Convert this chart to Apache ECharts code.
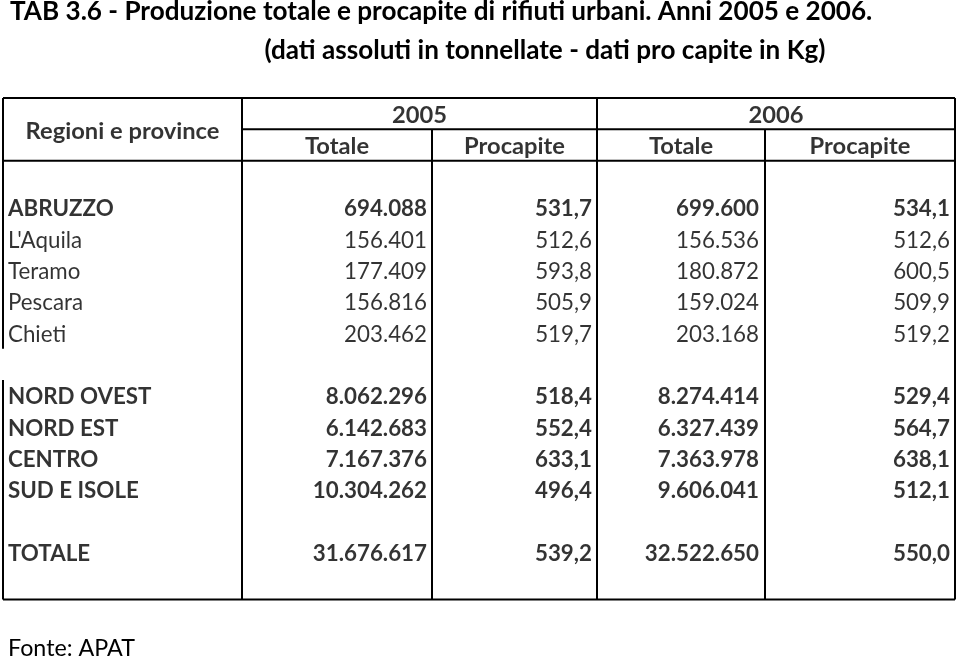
<!DOCTYPE html>
<html>
<head>
<meta charset="utf-8">
<script src="https://cdn.jsdelivr.net/npm/echarts@6/dist/echarts.min.js"></script>
<style>
html,body{margin:0;padding:0;background:#fff;}
#chart{width:960px;height:660px;}
</style>
</head>
<body>
<div id="chart"></div>
<script>
// ---------- DATA ----------
const titleMain = 'TAB 3.6 - Produzione totale e procapite di rifiuti urbani. Anni 2005 e 2006.';
const titleSub = '(dati assoluti in tonnellate - dati pro capite in Kg)';
const sourceNote = 'Fonte: APAT';
const rowHeader = 'Regioni e province';
const years = ['2005', '2006'];
const measures = ['Totale', 'Procapite'];

const regionNames = ['ABRUZZO', "L'Aquila", 'Teramo', 'Pescara', 'Chieti'];
const regionBold = [true, false, false, false, false];
const regionTot2005 = [694088, 156401, 177409, 156816, 203462];
const regionPc2005 = [531.7, 512.6, 593.8, 505.9, 519.7];
const regionTot2006 = [699600, 156536, 180872, 159024, 203168];
const regionPc2006 = [534.1, 512.6, 600.5, 509.9, 519.2];

const areaNames = ['NORD OVEST', 'NORD EST', 'CENTRO', 'SUD E ISOLE'];
const areaTot2005 = [8062296, 6142683, 7167376, 10304262];
const areaPc2005 = [518.4, 552.4, 633.1, 496.4];
const areaTot2006 = [8274414, 6327439, 7363978, 9606041];
const areaPc2006 = [529.4, 564.7, 638.1, 512.1];

const totalName = 'TOTALE';
const totalTot2005 = [31676617];
const totalPc2005 = [539.2];
const totalTot2006 = [32522650];
const totalPc2006 = [550.0];

// ---------- LAYOUT ----------
const FONT = 'Lato';
const colEdges = [3, 242, 432, 597, 765, 955];
const nSlots = 16;
const slotRegions = 3, slotAreas = 9, slotTotal = 14, gapSlotLeft = 8;

function fmtInt(n) {
  const s = String(Math.round(n));
  return s.replace(/\B(?=(\d{3})+(?!\d))/g, '.');
}
function fmtDec(n) { return n.toFixed(1).replace('.', ','); }

const cv = document.createElement('canvas').getContext('2d');
function fit(text, weight, target) {
  cv.font = weight + ' 100px ' + FONT;
  return 100 * target / cv.measureText(text).width;
}
const bodySize = fit('156.401', 'normal', 83);
const headSize = fit(rowHeader, 'bold', 194);
const titleSize = fit(titleMain, 'bold', 863);
const noteSize = fit(sourceNote, 'normal', 127);

// ---------- TEXT ITEMS ----------
const items = [];
function addText(x, y, text, align, bold, size) {
  items.push({
    value: [x, y],
    label: {
      show: true, position: 'inside', formatter: text, align: align, verticalAlign: 'middle',
      offset: [0, 1.5],
      fontWeight: bold ? 'bold' : 'normal', fontSize: size, fontFamily: FONT, color: '#000'
    }
  });
}
const E = colEdges;
addText((E[0] + E[1]) / 2, 1, rowHeader, 'center', true, headSize);
addText((E[1] + E[3]) / 2, 0.5, years[0], 'center', true, headSize);
addText((E[3] + E[5]) / 2, 0.5, years[1], 'center', true, headSize);
for (let c = 0; c < 4; c++) {
  addText((E[c + 1] + E[c + 2]) / 2, 1.5, measures[c % 2], 'center', true, headSize);
}
function addRow(slot, name, bold, t5, p5, t6, p6) {
  const y = slot + 0.5;
  addText(E[0] + 5, y, name, 'left', bold, bodySize);
  addText(E[2] - 5, y, fmtInt(t5), 'right', bold, bodySize);
  addText(E[3] - 5, y, fmtDec(p5), 'right', bold, bodySize);
  addText(E[4] - 6, y, fmtInt(t6), 'right', bold, bodySize);
  addText(E[5] - 5, y, fmtDec(p6), 'right', bold, bodySize);
}
regionNames.forEach((n, i) => addRow(slotRegions + i, n, regionBold[i], regionTot2005[i], regionPc2005[i], regionTot2006[i], regionPc2006[i]));
areaNames.forEach((n, i) => addRow(slotAreas + i, n, true, areaTot2005[i], areaPc2005[i], areaTot2006[i], areaPc2006[i]));
addRow(slotTotal, totalName, true, totalTot2005[0], totalPc2005[0], totalTot2006[0], totalPc2006[0]);

// ---------- CHART ----------
const chart = echarts.init(document.getElementById('chart'), null, { renderer: 'canvas' });
chart.setOption({
  animation: false,
  backgroundColor: '#fff',
  grid: { left: 0, right: 0, top: 98, bottom: 60.5, containLabel: false },
  xAxis: { type: 'value', min: 0, max: 960, show: false },
  yAxis: { type: 'value', min: 0, max: nSlots, inverse: true, show: false },
  graphic: [
    { type: 'text', style: { text: titleMain, x: 10, y: 12, align: 'left', verticalAlign: 'middle', font: 'bold ' + titleSize + 'px ' + FONT, fill: '#000' } },
    { type: 'text', style: { text: titleSub, x: 545, y: 51, align: 'center', verticalAlign: 'middle', font: 'bold ' + titleSize + 'px ' + FONT, fill: '#000' } },
    { type: 'text', style: { text: sourceNote, x: 8, y: 648, align: 'left', verticalAlign: 'middle', font: 'normal ' + noteSize + 'px ' + FONT, fill: '#000' } }
  ],
  series: [
    {
      type: 'custom',
      clip: false,
      silent: true,
      data: [[0, 0]],
      renderItem: function (params, api) {
        const L = E[0], R = E[5];
        const seg = (x1, k1, x2, k2) => {
          const a = api.coord([x1, k1]), b = api.coord([x2, k2]);
          return { type: 'line', shape: { x1: a[0], y1: a[1], x2: b[0], y2: b[1] }, style: { stroke: '#000', lineWidth: 2 } };
        };
        return {
          type: 'group',
          children: [
            seg(L, 0, R, 0),
            seg(L, nSlots, R, nSlots),
            seg(R, 0, R, nSlots),
            seg(L, 0, L, gapSlotLeft),
            seg(L, gapSlotLeft + 1, L, nSlots),
            seg(L, 2, R, 2),
            seg(E[1], 1, R, 1),
            seg(E[1], 0, E[1], nSlots),
            seg(E[3], 0, E[3], nSlots),
            seg(E[2], 1, E[2], nSlots),
            seg(E[4], 1, E[4], nSlots)
          ]
        };
      }
    },
    {
      type: 'scatter',
      symbolSize: 0,
      silent: true,
      data: items
    }
  ]
});
</script>
</body>
</html>
